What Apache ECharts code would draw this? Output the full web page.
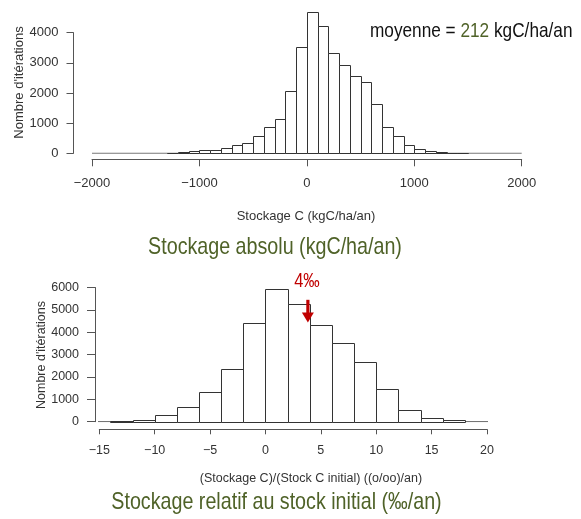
<!DOCTYPE html>
<html>
<head>
<meta charset="utf-8">
<script src="https://cdn.jsdelivr.net/npm/echarts@6/dist/echarts.min.js"></script>
<style>
html,body{margin:0;padding:0;background:#fff;}
#chart{width:581px;height:519px;}
</style>
</head>
<body>
<div id="chart"></div>
<script>
// ---- Data: absolute storage histogram (kgC/ha/an), bins of width 100 ----
var absBinStart = [-1300,-1200,-1100,-1000,-900,-800,-700,-600,-500,-400,-300,-200,-100,0,100,200,300,400,500,600,700,800,900,1000,1100,1200,1300,1400];
var absCounts   = [15,40,60,95,125,160,260,345,574,862,1128,2055,3516,4700,4222,3337,2929,2564,2375,1625,862,574,265,150,85,50,20,10];
var absBinWidth = 100;
var absXTicks = [-2000,-1000,0,1000,2000];
var absYTicks = [0,1000,2000,3000,4000];
var absBaseline = [-2000, 2000];

// ---- Data: relative storage histogram (‰/an), bins of width 2 ----
var relBinStart = [-14,-12,-10,-8,-6,-4,-2,0,2,4,6,8,10,12,14,16];
var relCounts   = [45,90,300,647,1320,2370,4425,5925,5250,4320,3528,2655,1458,526,180,75];
var relBinWidth = 2;
var relXTicks = [-15,-10,-5,0,5,10,15,20];
var relYTicks = [0,1000,2000,3000,4000,5000,6000];
var relBaseline = [-15.5, 22];

// ---- Annotation ----
var meanValue = 212;
var arrowX = 3.83, arrowTopY = 5450, arrowTipY = 4440;
var arrowLabel = '4‰', arrowLabelX = 3.74, arrowLabelY = 6260;

var sans = "'Liberation Sans',Arial,sans-serif";
var NARROW = 0.82; // emulate Arial Narrow by horizontal scaling
var green = '#4F6228';
var red = '#C00000';
var axisColor = '#555';
var textColor = '#333';

function histData(starts, counts, w){
  return starts.map(function(s,i){ return [s, counts[i], s+w]; });
}
function renderBar(params, api){
  var p0 = api.coord([api.value(0), api.value(1)]);
  var p1 = api.coord([api.value(2), 0]);
  return {
    type:'rect',
    shape:{x:Math.round(p0[0])+0.5, y:Math.round(p0[1])+0.5, width:Math.round(p1[0])-Math.round(p0[0]), height:Math.round(p1[1])-Math.round(p0[1])},
    style:{fill:'#fff', stroke:'#333', lineWidth:1}
  };
}
function fmt(v){ return v<0 ? '\u2212'+Math.abs(v) : String(v); }

var chart = echarts.init(document.getElementById('chart'), null, {renderer:'canvas'});

var option = {
  animation:false,
  backgroundColor:'#fff',
  grid:[
    {left:92, right:59.3, top:32.7, height:120.6},
    {left:99.3, right:94, top:287.5, height:134.2}
  ],
  xAxis:[
    {gridIndex:0, type:'value', min:absXTicks[0], max:absXTicks[absXTicks.length-1], interval:1000,
     offset:6, splitLine:{show:false},
     axisLine:{show:true, onZero:false, lineStyle:{color:axisColor, width:1}},
     axisTick:{show:true, inside:false, length:7, lineStyle:{color:axisColor}},
     axisLabel:{margin:18, color:textColor, fontFamily:sans, fontSize:13, formatter:fmt}},
    {gridIndex:1, type:'value', min:relXTicks[0], max:relXTicks[relXTicks.length-1], interval:5,
     offset:7.6, splitLine:{show:false},
     axisLine:{show:true, onZero:false, lineStyle:{color:axisColor, width:1}},
     axisTick:{show:true, inside:false, length:5, lineStyle:{color:axisColor}},
     axisLabel:{margin:15, color:textColor, fontFamily:sans, fontSize:12.5, formatter:fmt}}
  ],
  yAxis:[
    {gridIndex:0, type:'value', min:absYTicks[0], max:absYTicks[absYTicks.length-1], interval:1000,
     offset:18.5, splitLine:{show:false},
     axisLine:{show:true, onZero:false, lineStyle:{color:axisColor, width:1}},
     axisTick:{show:true, inside:false, length:7, lineStyle:{color:axisColor}},
     axisLabel:{margin:15, color:textColor, fontFamily:sans, fontSize:13, formatter:fmt}},
    {gridIndex:1, type:'value', min:relYTicks[0], max:relYTicks[relYTicks.length-1], interval:1000,
     offset:4.3, splitLine:{show:false},
     axisLine:{show:true, onZero:false, lineStyle:{color:axisColor, width:1}},
     axisTick:{show:true, inside:false, length:8, lineStyle:{color:axisColor}},
     axisLabel:{margin:16, color:textColor, fontFamily:sans, fontSize:12.5, formatter:fmt}}
  ],
  series:[
    {type:'line', xAxisIndex:0, yAxisIndex:0, data:[[absBaseline[0],0],[absBaseline[1],0]],
     symbol:'none', lineStyle:{color:axisColor, width:1}, z:1, silent:true},
    {type:'custom', xAxisIndex:0, yAxisIndex:0, data:histData(absBinStart, absCounts, absBinWidth),
     encode:{x:[0,2], y:1}, renderItem:renderBar, clip:false, z:2, silent:true},
    {type:'line', xAxisIndex:1, yAxisIndex:1, data:[[relBaseline[0],0],[relBaseline[1],0]],
     symbol:'none', lineStyle:{color:axisColor, width:1}, z:1, silent:true},
    {type:'custom', xAxisIndex:1, yAxisIndex:1, data:histData(relBinStart, relCounts, relBinWidth),
     encode:{x:[0,2], y:1}, renderItem:renderBar, clip:false, z:2, silent:true},
    {type:'custom', xAxisIndex:1, yAxisIndex:1, data:[[arrowX, arrowTopY, arrowTipY, arrowLabelX, arrowLabelY]],
     encode:{x:[0,3], y:[1,2,4]}, clip:false, z:5, silent:true,
     renderItem:function(params, api){
       var top = api.coord([api.value(0), api.value(1)]);
       var tip = api.coord([api.value(0), api.value(2)]);
       var lab = api.coord([api.value(3), api.value(4)]);
       var x = top[0], headH = 10, headW = 6;
       return {type:'group', children:[
         {type:'rect', shape:{x:x-1.6, y:top[1], width:3.2, height:tip[1]-headH-top[1]+1}, style:{fill:red}},
         {type:'polygon', shape:{points:[[x-headW, tip[1]-headH],[x+headW, tip[1]-headH],[x, tip[1]]]}, style:{fill:red}},
         {type:'text', x:lab[0], y:lab[1], scaleX:NARROW, style:{text:arrowLabel, fill:red, font:'20px '+sans, textAlign:'center', textVerticalAlign:'middle'}}
       ]};
     }}
  ],
  graphic:[
    {type:'text', x:19, y:82.5, rotation:Math.PI/2, style:{text:"Nombre d'itérations", fill:textColor, font:'13px '+sans, textAlign:'center', textVerticalAlign:'middle'}},
    {type:'text', x:41.7, y:355, rotation:Math.PI/2, style:{text:"Nombre d'itérations", fill:textColor, font:'12.5px '+sans, textAlign:'center', textVerticalAlign:'middle'}},
    {type:'text', x:306, y:216.7, style:{text:'Stockage C (kgC/ha/an)', fill:textColor, font:'13px '+sans, textAlign:'center', textVerticalAlign:'middle'}},
    {type:'text', x:311, y:479, style:{text:'(Stockage C)/(Stock C initial) ((o/oo)/an)', fill:textColor, font:'12.5px '+sans, textAlign:'center', textVerticalAlign:'middle'}},
    {type:'text', x:275, y:247, scaleX:NARROW, style:{text:'Stockage absolu (kgC/ha/an)', fill:green, font:'24px '+sans, textAlign:'center', textVerticalAlign:'middle'}},
    {type:'text', x:276.5, y:502, scaleX:NARROW, style:{text:'Stockage relatif au stock initial (‰/an)', fill:green, font:'24px '+sans, textAlign:'center', textVerticalAlign:'middle'}},
    {type:'text', x:370, y:31, scaleX:NARROW, style:{
       text:'{a|moyenne = }{g|'+meanValue+'}{a| kgC/ha/an}',
       textAlign:'left', textVerticalAlign:'middle',
       rich:{a:{fill:'#111', font:'21px '+sans}, g:{fill:green, font:'21px '+sans}}}}
  ]
};
chart.setOption(option);
</script>
</body>
</html>
